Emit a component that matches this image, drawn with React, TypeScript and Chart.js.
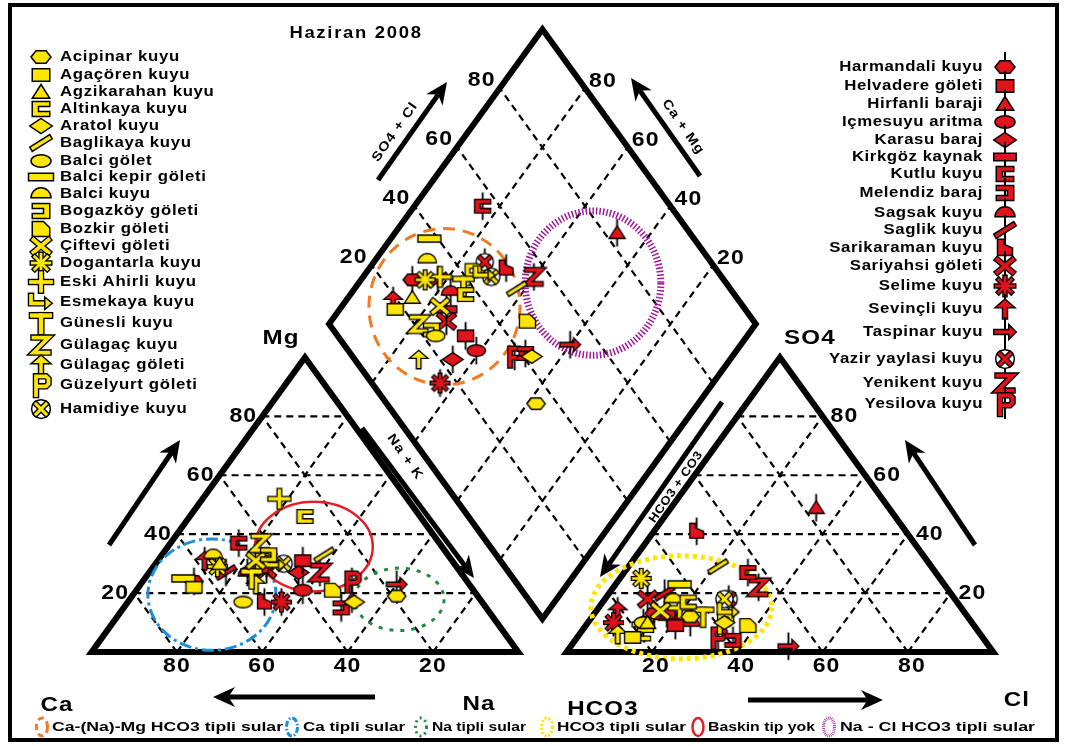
import { useEffect, useRef } from 'react';
import { Chart, registerables } from 'chart.js';

Chart.register(...registerables);

// ---------------- data ----------------
const TITLE = 'Haziran 2008';

const yellowNames = ['Acipinar kuyu', 'Agaçören kuyu', 'Agzikarahan kuyu', 'Altinkaya kuyu', 'Aratol kuyu', 'Baglikaya kuyu', 'Balci gölet', 'Balci kepir göleti', 'Balci kuyu', 'Bogazköy göleti', 'Bozkir göleti', 'Çiftevi göleti', 'Dogantarla kuyu', 'Eski Ahirli kuyu', 'Esmekaya kuyu', 'Günesli kuyu', 'Gülagaç kuyu', 'Gülagaç göleti', 'Güzelyurt göleti', 'Hamidiye kuyu'];
const yellowShapes = ['hexagon', 'rect', 'triangle', 'bracketL', 'diamond', 'slash', 'ellipse', 'longbar', 'dome', 'bracketR', 'dshape', 'x', 'asterisk', 'plus', 'hookarrow', 'tee', 'zed', 'uparrow', 'pee', 'circlex'];
// cations (%): Mg, Na+K  (Ca = remainder)
const yellowMg = [19, 22, 30, 46, 17, 33, 17, 25, 33, 33, 21, 31, 29, 52, 30, 25, 37, 23, 30, 30];
const yellowNa = [62, 13, 15, 27, 53, 38, 27, 9, 12, 25, 46, 23, 15, 18, 28, 25, 21, 27, 25, 30];
// anions (%): SO4, Cl  (HCO3 = remainder)
const yellowSO4 = [12, 5, 10, 17, 10, 29, 10, 23, 18, 9, 9, 14, 25, 15, 14, 12, 7, 6, 10, 18];
const yellowCl = [23, 13, 14, 20, 32, 21, 13, 15, 16, 14, 38, 15, 5, 19, 31, 26, 14, 9, 32, 28];

const redNames = ['Harmandali kuyu', 'Helvadere göleti', 'Hirfanli baraji', 'Içmesuyu aritma', 'Karasu baraj', 'Kirkgöz kaynak', 'Kutlu kuyu', 'Melendiz baraj', 'Sagsak kuyu', 'Saglik kuyu', 'Sarikaraman kuyu', 'Sariyahsi göleti', 'Selime kuyu', 'Sevinçli kuyu', 'Taspinar kuyu', 'Yazir yaylasi kuyu', 'Yenikent kuyu', 'Yesilova kuyu'];
const redShapes = ['hexagon', 'rect', 'triangle', 'ellipse', 'diamond', 'hbar', 'bracketL', 'bracketR', 'dome', 'slash', 'house', 'x', 'asterisk', 'uparrow', 'rightarrow', 'circlex', 'zed', 'pee'];
const redMg = [24, 31, 18, 21, 27, 28, 37, 15, 27, 27, 17, 28, 17, 31, 23, 30, 27, 24];
const redNa = [12, 34, 52, 39, 35, 25, 16, 51, 23, 18, 32, 27, 36, 11, 60, 26, 40, 49];
const redSO4 = [13, 9, 49, 13, 10, 12, 27, 4, 10, 20, 41, 18, 10, 14, 2, 18, 22, 5];
const redCl = [14, 21, 34, 17, 13, 18, 29, 37, 24, 13, 10, 10, 6, 5, 51, 29, 34, 33];

const tickValues = [20, 40, 60, 80];
const zoneNames = ['Ca-(Na)-Mg HCO3 tipli sular', 'Ca tipli sular', 'Na tipli sular', 'HCO3 tipli sular', 'Baskin tip yok', 'Na - Cl HCO3 tipli sular'];

// ---------------- layout / style ----------------
const GAP = 11.3;
const X_MIN = -19.35, X_MAX = 226.0, Y_MIN = -28.8, Y_MAX = 218.2;
const YELLOW = '#FFE600';
const RED = '#E3131B';
const FONT = '"Liberation Sans", Arial, sans-serif';

const ZONES = [
  { cx: 82.7, cy: 117.2, rx: 17.7, ry: 26.5, color: '#F47920', dash: [12, 8], w: 3 },
  { cx: 28.2, cy: 19.5, rx: 15.0, ry: 18.9, color: '#1B8FD9', dash: [12, 4, 3, 4], w: 3 },
  { cx: 72.1, cy: 17.9, rx: 10.5, ry: 10.6, color: '#1E8A3E', dash: [4, 7], w: 3 },
  { cx: 138.2, cy: 15.2, rx: 21.2, ry: 17.5, color: '#FFE600', dash: [4, 4], w: 5 },
  { cx: 52.1, cy: 35.8, rx: 13.8, ry: 15.2, color: '#E31E26', dash: [], w: 2.5 },
  { cx: 117.5, cy: 125.2, rx: 15.9, ry: 24.5, color: '#A1199B', dash: [1.5, 2], w: 7 },
];
const ZONE_LEGEND = [
  { icon: 42, x0: 52, x1: 283 },
  { icon: 292, x0: 303, x1: 405 },
  { icon: 421, x0: 432, x1: 526 },
  { icon: 547, x0: 557, x1: 686 },
  { icon: 698, x0: 708, x1: 815 },
  { icon: 829, x0: 840, x1: 1035 },
];
const LEFT_LEG_Y = [57, 75, 92, 109, 126, 143, 161, 177, 194, 211, 229, 246, 263, 282, 302, 323, 345, 365, 385, 409];
const RIGHT_LEG_Y = [67, 86, 104, 122, 140, 157, 174, 193, 213, 230, 248, 266, 286, 309, 332, 359, 383, 404];

type Pt = [number, number];

// ---------------- glyphs ----------------
function poly(ctx: CanvasRenderingContext2D, pts: Pt[], fill: string) {
  ctx.beginPath();
  pts.forEach(([x, y], i) => (i ? ctx.lineTo(x, y) : ctx.moveTo(x, y)));
  ctx.closePath();
  ctx.fillStyle = fill;
  ctx.fill();
  ctx.lineWidth = 1.2;
  ctx.strokeStyle = '#000';
  ctx.lineJoin = 'miter';
  ctx.stroke();
}
function lines(ctx: CanvasRenderingContext2D, paths: Pt[][], w: number, fill: string) {
  ctx.lineJoin = 'miter';
  ctx.lineCap = 'square';
  ([[w + 2.2, '#000'], [w, fill]] as [number, string][]).forEach(([lw, col]) => {
    ctx.lineWidth = lw;
    ctx.strokeStyle = col;
    paths.forEach((p) => {
      ctx.beginPath();
      p.forEach(([x, y], i) => (i ? ctx.lineTo(x, y) : ctx.moveTo(x, y)));
      ctx.stroke();
    });
  });
}
function ellipseShape(ctx: CanvasRenderingContext2D, x: number, y: number, rx: number, ry: number, fill: string, a0 = 0, a1 = Math.PI * 2, close = false) {
  ctx.beginPath();
  ctx.ellipse(x, y, rx, ry, 0, a0, a1);
  if (close) ctx.closePath();
  ctx.fillStyle = fill;
  ctx.fill();
  ctx.lineWidth = 1.2;
  ctx.strokeStyle = '#000';
  ctx.stroke();
}
function drawGlyph(ctx: CanvasRenderingContext2D, shape: string, fill: string, red: boolean) {
  ctx.save();
  if (red) {
    ctx.strokeStyle = '#000';
    ctx.lineWidth = 1.6;
    ctx.beginPath();
    ctx.moveTo(0, -12);
    ctx.lineTo(0, 12);
    ctx.stroke();
  }
  switch (shape) {
    case 'hexagon': poly(ctx, [[-8, 0], [-4, -5], [4, -5], [8, 0], [4, 5], [-4, 5]], fill); break;
    case 'rect': poly(ctx, [[-7, -5], [7, -5], [7, 5], [-7, 5]], fill); break;
    case 'triangle': poly(ctx, [[0, -6], [7, 5], [-7, 5]], fill); break;
    case 'bracketL': poly(ctx, [[-7, -6], [7, -6], [7, -2], [-2, -2], [-2, 2], [7, 2], [7, 6], [-7, 6]], fill); break;
    case 'bracketR': poly(ctx, [[7, -6], [-7, -6], [-7, -2], [2, -2], [2, 2], [-7, 2], [-7, 6], [7, 6]], fill); break;
    case 'diamond': poly(ctx, [[0, -6], [9, 0], [0, 6], [-9, 0]], fill); break;
    case 'slash': poly(ctx, [[-9, 3.3], [7, -6.7], [9, -3.3], [-7, 6.7]], fill); break;
    case 'ellipse': ellipseShape(ctx, 0, 0, 8, 5, fill); break;
    case 'longbar': poly(ctx, [[-10, -3], [10, -3], [10, 3], [-10, 3]], fill); break;
    case 'hbar': poly(ctx, [[-9, -3], [9, -3], [9, 3], [-9, 3]], fill); break;
    case 'dome': ellipseShape(ctx, 0, 3, 8, 8, fill, Math.PI, Math.PI * 2, true); break;
    case 'dshape': poly(ctx, [[-7, -6], [2, -6], [7, -1], [7, 6], [-7, 6]], fill); break;
    case 'house': poly(ctx, [[-6, -7], [-1, -7], [-1, -3], [6, 0], [6, 6], [-6, 6]], fill); break;
    case 'x': lines(ctx, [[[-6, -5], [6, 5]], [[-6, 5], [6, -5]]], 3, fill); break;
    case 'asterisk': lines(ctx, [[[-5, -5], [5, 5]], [[-5, 5], [5, -5]], [[0, -7], [0, 7]], [[-7, 0], [7, 0]]], 2.2, fill); break;
    case 'plus': lines(ctx, [[[-8, 0], [8, 0]], [[0, -7], [0, 7]]], 3, fill); break;
    case 'hookarrow':
      lines(ctx, [[[-8, -5], [-8, 1], [3, 1]]], 3, fill);
      poly(ctx, [[3, -4], [9, 1], [3, 6]], fill);
      break;
    case 'rightarrow': poly(ctx, [[-9, -2], [3, -2], [3, -6], [9, 0], [3, 6], [3, 2], [-9, 2]], fill); break;
    case 'tee': lines(ctx, [[[-7, -6], [7, -6]], [[0, -6], [0, 7]]], 3.5, fill); break;
    case 'zed': lines(ctx, [[[-6, -6], [6, -6], [-6, 6], [6, 6]]], 3, fill); break;
    case 'uparrow': poly(ctx, [[0, -8], [8, -1], [2, -1], [2, 8], [-2, 8], [-2, -1], [-8, -1]], fill); break;
    case 'pee': lines(ctx, [[[-4, 8], [-4, -7], [4, -7], [6, -5], [6, -1], [4, 1], [-4, 1]]], 3, fill); break;
    case 'circlex':
      ellipseShape(ctx, 0, 0, 7.5, 7.5, '#fff');
      lines(ctx, [[[-4, -4], [4, 4]], [[-4, 4], [4, -4]]], 2.5, fill);
      break;
  }
  ctx.restore();
}
function makeGlyph(shape: string, fill: string, red: boolean, scale = 1) {
  const c = document.createElement('canvas');
  const s = Math.ceil(30 * scale);
  c.width = s;
  c.height = s;
  const ctx = c.getContext('2d')!;
  ctx.translate(s / 2, s / 2);
  ctx.scale(scale, scale);
  drawGlyph(ctx, shape, fill, red);
  return c;
}

// ---------------- positions ----------------
const cation = (mg: number, na: number) => ({ x: na + mg / 2, y: mg });
const anion = (so4: number, cl: number) => ({ x: 100 + GAP + cl + so4 / 2, y: so4 });
const diamondPt = (na: number, so4: number, cl: number) => {
  const c = 1 - na / 100;
  const a = (so4 + cl) / 100;
  return { x: 100 + GAP / 2 - 50 * c + 50 * a, y: GAP + 100 * c + 100 * a };
};

function txt(ctx: CanvasRenderingContext2D, s: string, x: number, y: number, size: number,
  o: { align?: CanvasTextAlign; baseline?: CanvasTextBaseline; sx?: number; ls?: number; rot?: number; width?: number } = {}) {
  ctx.save();
  ctx.translate(x, y);
  if (o.rot) ctx.rotate(o.rot);
  ctx.font = `bold ${size}px ${FONT}`;
  (ctx as any).letterSpacing = `${o.ls ?? 0}px`;
  let k = o.sx ?? 1;
  if (o.width) k = o.width / ctx.measureText(s).width;
  ctx.scale(k, 1);
  ctx.textAlign = o.align ?? 'center';
  ctx.textBaseline = o.baseline ?? 'middle';
  ctx.fillStyle = '#000';
  ctx.fillText(s, 0, 0);
  ctx.restore();
}

function arrow(ctx: CanvasRenderingContext2D, x1: number, y1: number, x2: number, y2: number) {
  const hl = 22, hw = 10;
  const a = Math.atan2(y2 - y1, x2 - x1);
  const ux = Math.cos(a), uy = Math.sin(a);
  const bx = x2 - ux * hl * 0.7, by = y2 - uy * hl * 0.7;
  ctx.save();
  ctx.strokeStyle = '#000';
  ctx.fillStyle = '#000';
  ctx.lineWidth = 5;
  ctx.setLineDash([]);
  ctx.beginPath();
  ctx.moveTo(x1, y1);
  ctx.lineTo(bx, by);
  ctx.stroke();
  ctx.beginPath();
  ctx.moveTo(x2, y2);
  ctx.lineTo(x2 - ux * hl - uy * hw, y2 - uy * hl + ux * hw);
  ctx.lineTo(bx, by);
  ctx.lineTo(x2 - ux * hl + uy * hw, y2 - uy * hl - ux * hw);
  ctx.closePath();
  ctx.fill();
  ctx.restore();
}

export default function App() {
  const ref = useRef<HTMLCanvasElement>(null);
  useEffect(() => {
    if (!ref.current) return;
    const yG = yellowShapes.map((s) => makeGlyph(s, YELLOW, false, 1.15));
    const rG = redShapes.map((s) => makeGlyph(s, RED, true, 1.15));
    const yGL = yellowShapes.map((s) => makeGlyph(s, YELLOW, false, 1.25));
    const rGL = redShapes.map((s) => makeGlyph(s, RED, true, 1.25));

    const datasets: any[] = [];
    yellowNames.forEach((n, i) => {
      datasets.push({
        label: n,
        data: [cation(yellowMg[i], yellowNa[i]), anion(yellowSO4[i], yellowCl[i]), diamondPt(yellowNa[i], yellowSO4[i], yellowCl[i])],
        pointStyle: yG[i], pointRadius: 8, showLine: false,
      });
    });
    redNames.forEach((n, i) => {
      datasets.push({
        label: n,
        data: [cation(redMg[i], redNa[i]), anion(redSO4[i], redCl[i]), diamondPt(redNa[i], redSO4[i], redCl[i])],
        pointStyle: rG[i], pointRadius: 8, showLine: false,
      });
    });

    const decor = {
      id: 'piperDecor',
      beforeDraw(chart: any) {
        const ctx = chart.ctx as CanvasRenderingContext2D;
        ctx.save();
        ctx.fillStyle = '#fff';
        ctx.fillRect(0, 0, chart.width, chart.height);
        ctx.restore();
      },
      beforeDatasetsDraw(chart: any) {
        const ctx = chart.ctx as CanvasRenderingContext2D;
        const sx = chart.scales.x, sy = chart.scales.y;
        const P = (p: Pt): Pt => [sx.getPixelForValue(p[0]), sy.getPixelForValue(p[1])];
        const add = (p: Pt, q: Pt, t = 1): Pt => [p[0] + q[0] * t, p[1] + q[1] * t];
        const seg = (a: Pt, b: Pt) => {
          const A = P(a), B = P(b);
          ctx.beginPath();
          ctx.moveTo(A[0], A[1]);
          ctx.lineTo(B[0], B[1]);
          ctx.stroke();
        };
        const closed = (pts: Pt[]) => {
          ctx.beginPath();
          pts.map(P).forEach(([x, y], i) => (i ? ctx.lineTo(x, y) : ctx.moveTo(x, y)));
          ctx.closePath();
          ctx.stroke();
        };
        const O = 100 + GAP;
        const B0: Pt = [100 + GAP / 2, GAP];
        const Lv: Pt = [-50, 100], Rv: Pt = [50, 100];

        // frame
        ctx.save();
        ctx.strokeStyle = '#000';
        ctx.lineWidth = 4;
        ctx.strokeRect(10, 5, 1047, 735);
        ctx.restore();

        // dashed grid
        ctx.save();
        ctx.setLineDash([7, 5]);
        ctx.lineWidth = 2.2;
        ctx.strokeStyle = '#000';
        for (const off of [0, O]) {
          for (const k of tickValues) {
            seg([off + k / 2, k], [off + 100 - k / 2, k]);
            seg([off + k, 0], [off + k + (100 - k) / 2, 100 - k]);
            seg([off + 100 - k, 0], [off + (100 - k) / 2, 100 - k]);
          }
        }
        for (const k of tickValues) {
          const t = k / 100;
          seg(add(B0, Lv, t), add(add(B0, Lv, t), Rv));
          seg(add(B0, Rv, t), add(add(B0, Rv, t), Lv));
        }
        ctx.restore();

        // outlines
        ctx.save();
        ctx.strokeStyle = '#000';
        ctx.lineWidth = 6;
        ctx.lineJoin = 'miter';
        closed([[0, 0], [100, 0], [50, 100]]);
        closed([[O, 0], [O + 100, 0], [O + 50, 100]]);
        closed([B0, add(B0, Rv), add(add(B0, Rv), Lv), add(B0, Lv)]);
        ctx.restore();

        // zones
        ZONES.forEach((z) => {
          const [cx, cy] = P([z.cx, z.cy]);
          const rx = sx.getPixelForValue(z.cx + z.rx) - cx;
          const ry = cy - sy.getPixelForValue(z.cy + z.ry);
          ctx.save();
          ctx.strokeStyle = z.color;
          ctx.lineWidth = z.w;
          ctx.setLineDash(z.dash);
          ctx.beginPath();
          ctx.ellipse(cx, cy, rx, ry, 0, 0, Math.PI * 2);
          ctx.stroke();
          ctx.restore();
        });

        // arrows
        arrow(ctx, 109, 545, 180, 440);
        arrow(ctx, 975, 545, 905, 440);
        arrow(ctx, 375, 697, 213, 697);
        arrow(ctx, 748, 700, 883, 700);
        arrow(ctx, 378, 180, 447, 82);
        arrow(ctx, 700, 176, 631, 78);
        arrow(ctx, 362, 428, 474, 578);
        arrow(ctx, 722, 402, 600, 577);

        // rotated axis captions
        const r55 = (55 * Math.PI) / 180;
        txt(ctx, 'SO4 + Cl', 395, 132, 13, { rot: -r55, sx: 1.15, ls: 0.8 });
        txt(ctx, 'Ca + Mg', 683, 127, 13, { rot: r55, sx: 1.15, ls: 0.8 });
        txt(ctx, 'Na + K', 405, 457, 13, { rot: r55, sx: 1.15, ls: 0.8 });
        txt(ctx, 'HCO3 + CO3', 676, 487, 12, { rot: -r55, sx: 1.1, ls: 0.5 });

        // tick labels
        tickValues.forEach((k) => {
          let p = P([k / 2, k]);
          txt(ctx, String(k), p[0] - 5, p[1], 20, { align: 'right', sx: 1.15, ls: 1 });
          p = P([100 - k, 0]);
          txt(ctx, String(k), p[0], p[1] + 14, 20, { sx: 1.15, ls: 1 });
          p = P([O + 100 - k / 2, k]);
          txt(ctx, String(k), p[0] + 8, p[1], 20, { align: 'left', sx: 1.15, ls: 1 });
          p = P([O + k, 0]);
          txt(ctx, String(k), p[0] + 4, p[1] + 14, 20, { sx: 1.15, ls: 1 });
          const t = k / 100;
          p = P(add(add(B0, Lv), Rv, t));
          txt(ctx, String(k), p[0] - 4, p[1] - 8, 20, { align: 'right', sx: 1.15, ls: 1 });
          p = P(add(add(B0, Rv), Lv, t));
          txt(ctx, String(k), p[0] + 4, p[1] - 7, 20, { align: 'left', sx: 1.15, ls: 1 });
        });

        // axis titles
        txt(ctx, 'Mg', 281, 338, 21, { sx: 1.15, ls: 1 });
        txt(ctx, 'SO4', 810, 338, 21, { sx: 1.15, ls: 1 });
        txt(ctx, 'Ca', 57, 705, 21, { sx: 1.15, ls: 1 });
        txt(ctx, 'Na', 479, 704, 21, { sx: 1.15, ls: 1 });
        txt(ctx, 'HCO3', 603, 709, 21, { sx: 1.15, ls: 1 });
        txt(ctx, 'Cl', 1017, 700, 21, { sx: 1.15, ls: 1 });

        // title
        txt(ctx, TITLE, 356, 34, 16, { sx: 1.15, ls: 1.5 });

        // station legends
        yellowNames.forEach((n, i) => {
          const g = yGL[i];
          ctx.drawImage(g, 41 - g.width / 2, LEFT_LEG_Y[i] - g.height / 2);
          txt(ctx, n, 60, LEFT_LEG_Y[i], 15, { align: 'left', sx: 1.12, ls: 0.6 });
        });
        redNames.forEach((n, i) => {
          const g = rGL[i];
          ctx.drawImage(g, 1005 - g.width / 2, RIGHT_LEG_Y[i] - g.height / 2);
          txt(ctx, n, 983, RIGHT_LEG_Y[i], 15, { align: 'right', sx: 1.12, ls: 0.5 });
        });

        // zone legend
        zoneNames.forEach((n, i) => {
          const z = ZONES[i], l = ZONE_LEGEND[i];
          ctx.save();
          ctx.strokeStyle = z.color;
          ctx.lineWidth = Math.min(z.w, 3);
          ctx.setLineDash(z.dash.map((d) => d * 0.5));
          ctx.beginPath();
          ctx.ellipse(l.icon, 727, 5.5, 9, 0, 0, Math.PI * 2);
          ctx.stroke();
          ctx.restore();
          txt(ctx, n, l.x0, 727, 13, { align: 'left', width: l.x1 - l.x0 });
        });
      },
    };

    const chart = new Chart(ref.current, {
      type: 'scatter',
      data: { datasets },
      options: {
        animation: false,
        responsive: false,
        devicePixelRatio: 1,
        events: [],
        layout: { padding: 0 },
        plugins: { legend: { display: false }, tooltip: { enabled: false }, title: { display: false } },
        scales: {
          x: { type: 'linear', min: X_MIN, max: X_MAX, display: false },
          y: { type: 'linear', min: Y_MIN, max: Y_MAX, display: false },
        },
      },
      plugins: [decor],
    });
    return () => chart.destroy();
  }, []);

  return (
    <div style={{ position: 'absolute', left: 0, top: 0, width: 1065, height: 746, background: '#fff' }}>
      <canvas ref={ref} width={1065} height={746} style={{ display: 'block' }} />
    </div>
  );
}
